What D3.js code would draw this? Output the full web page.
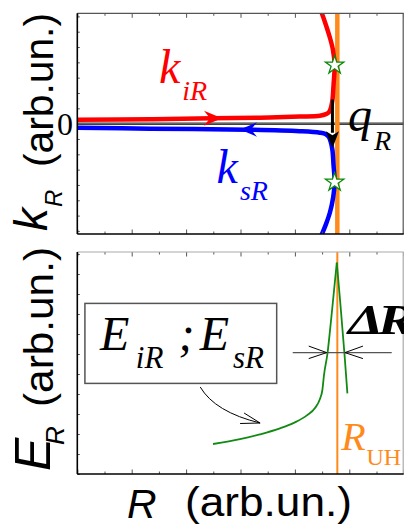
<!doctype html>
<html>
<head>
<meta charset="utf-8">
<title>k_R and E_R versus R</title>
<style>
  body { margin: 0; background: #fff; }
  svg { display: block; }
</style>
</head>
<body>
<script src="https://d3js.org/d3.v7.min.js"></script>
<script>

// ---- data (R in axis tick units, k_R and E_R in arbitrary units) ----
var idlerR  = [0, 2.67, 4.99, 6.71, 8.18, 8.92, 9.14, 9.25, 9.32, 9.38, 9.42, 9.46, 9.40, 9.29, 9.14, 8.99, 8.90];
var idlerK  = [0.26, 0.29, 0.36, 0.39, 0.46, 0.52, 0.62, 0.75, 1.01, 1.54, 2.52, 3.82, 4.80, 5.59, 6.44, 7.20, 7.60];
var signalR = [0, 2.67, 6.24, 8.18, 8.92, 9.14, 9.25, 9.32, 9.38, 9.42, 9.46, 9.40, 9.29, 9.14, 8.99, 8.90];
var signalK = [-0.27, -0.33, -0.39, -0.49, -0.59, -0.69, -0.88, -1.21, -1.73, -2.71, -3.82, -4.87, -5.78, -6.57, -7.22, -7.60];
var starR   = [9.46, 9.46];
var starK   = [3.82, -3.82];
var fieldR  = [4.99, 5.98, 6.71, 7.45, 8.00, 8.44, 8.74, 8.92, 9.01, 9.07, 9.20, 9.33, 9.44, 9.54, 9.66, 9.82, 9.93];
var fieldE  = [1.50, 1.74, 1.98, 2.28, 2.58, 2.93, 3.30, 3.75, 4.20, 4.95, 6.05, 7.70, 9.20, 10.57, 8.70, 6.05, 4.03];
var upperHybridR = 9.56;
var xTicks = d3.range(0, 13);
var kTicks = d3.range(-7, 8);
var eTicks = d3.range(0, 12);

var W = 404, H = 526;
var svg = d3.select('body').append('svg').attr('width', W).attr('height', H);

var L = 77.3, R = 403.7;
var x = d3.scaleLinear().domain([0, 12]).range([L, R]);
var yK = d3.scaleLinear().domain([-7.2, 7.2]).range([234, 13.3]);
var yE = d3.scaleLinear().domain([0, 11.1]).range([474, 252]);

var serif = "'Liberation Serif', 'DejaVu Serif', serif";
var sans = "'Liberation Sans', Arial, sans-serif";
var orange = '#ff8a1c';

var defs = svg.append('defs');
defs.append('clipPath').attr('id', 'clipTop').append('rect')
    .attr('x', L).attr('y', yK(7.2)).attr('width', R - L).attr('height', yK(-7.2) - yK(7.2));
defs.append('clipPath').attr('id', 'clipBot').append('rect')
    .attr('x', L).attr('y', yE(11.1)).attr('width', R - L).attr('height', yE(0) - yE(11.1));

function ticks(g, y0, y1, yScale, yVals){
    var major = xTicks.filter(function(d){ return d % 2 === 0; });
    var minor = xTicks.filter(function(d){ return d % 2 === 1; });
    [[major, 4.5], [minor, 2.5]].forEach(function(p){
        g.append('g').attr('transform', 'translate(0,' + y1 + ')')
            .call(d3.axisBottom(x).tickValues(p[0]).tickSize(-p[1]).tickFormat(''))
            .call(function(a){ a.select('.domain').remove(); a.selectAll('line').attr('stroke', '#555'); });
        g.append('g').attr('transform', 'translate(0,' + y0 + ')')
            .call(d3.axisTop(x).tickValues(p[0]).tickSize(-p[1]).tickFormat(''))
            .call(function(a){ a.select('.domain').remove(); a.selectAll('line').attr('stroke', '#555'); });
    });
    g.append('g').attr('transform', 'translate(' + L + ',0)')
        .call(d3.axisLeft(yScale).tickValues(yVals).tickSize(-2.5).tickFormat(''))
        .call(function(a){ a.select('.domain').remove(); a.selectAll('line').attr('stroke', '#555'); });
}

function frame(g, y0, y1, edge){
    g.append('line').attr('x1', L).attr('x2', R).attr('y1', y0).attr('y2', y0).attr('stroke', edge).attr('stroke-width', 1.2);
    g.append('line').attr('x1', R - 0.5).attr('x2', R - 0.5).attr('y1', y0).attr('y2', y1).attr('stroke', edge).attr('stroke-width', 1.2);
    g.append('line').attr('x1', L).attr('x2', R).attr('y1', y1).attr('y2', y1).attr('stroke', '#000').attr('stroke-width', 1.6);
    g.append('line').attr('x1', L).attr('x2', L).attr('y1', y0).attr('y2', y1).attr('stroke', '#000').attr('stroke-width', 1.6);
}

// arrowhead drawn in pixels: tip point, direction (+1 right, -1 left, 'down')
function arrowHead(g, tx, ty, dir, color, len, hw, notch){
    var pts;
    if(dir === 'down'){
        pts = [[tx, ty], [tx - hw, ty - len], [tx, ty - len + notch], [tx + hw, ty - len]];
    } else {
        pts = [[tx, ty], [tx - dir * len, ty - hw], [tx - dir * (len - notch), ty], [tx - dir * len, ty + hw]];
    }
    g.append('path').attr('d', 'M' + pts.join('L') + 'Z').attr('fill', color);
}

// ================= top panel: k_R =================
var topPanel = svg.append('g');
var topClip = topPanel.append('g').attr('clip-path', 'url(#clipTop)');

topClip.append('line').attr('x1', L).attr('x2', R).attr('y1', yK(0) - 1).attr('y2', yK(0) - 1)
    .attr('stroke', '#999').attr('stroke-width', 1.5);
topClip.append('line').attr('x1', L).attr('x2', R).attr('y1', yK(0) + 0.5).attr('y2', yK(0) + 0.5)
    .attr('stroke', '#000').attr('stroke-width', 1.2);

topClip.append('line').attr('x1', x(upperHybridR)).attr('x2', x(upperHybridR))
    .attr('y1', yK(7.2)).attr('y2', yK(-7.2)).attr('stroke', orange).attr('stroke-width', 4.5);

var idlerPts = idlerR.map(function(r, i){ return [x(r), yK(idlerK[i])]; });
var signalPts = signalR.map(function(r, i){ return [x(r), yK(signalK[i])]; });
topClip.append('path').attr('d', d3.line().curve(d3.curveCatmullRom)(idlerPts))
    .attr('fill', 'none').attr('stroke', '#ff0000').attr('stroke-width', 4.5);
topClip.append('path').attr('d', d3.line().curve(d3.curveCatmullRom)(signalPts))
    .attr('fill', 'none').attr('stroke', '#0000ff').attr('stroke-width', 4.5);

arrowHead(topClip, x(5.32), yK(0.36), 1, '#ff0000', 18, 7.5, 6);
arrowHead(topClip, x(5.98), yK(-0.38), -1, '#0000ff', 17, 7.2, 6);

// q_R wave-vector arrow
topClip.append('line').attr('x1', x(9.38)).attr('x2', x(9.38)).attr('y1', yK(1.58)).attr('y2', yK(-0.6))
    .attr('stroke', '#000').attr('stroke-width', 3);
arrowHead(topClip, x(9.38), yK(-1.6), 'down', '#000', 17, 6.5, 4);

topClip.selectAll('path.star').data(starR).enter().append('path').attr('class', 'star')
    .attr('d', d3.symbol(d3.symbolStar, 105))
    .attr('transform', function(d, i){ return 'translate(' + x(d) + ',' + yK(starK[i]) + ')'; })
    .attr('fill', '#fff').attr('stroke', '#0a8a0a').attr('stroke-width', 1.3);

ticks(topPanel, yK(7.2), yK(-7.2), yK, kTicks);
frame(topPanel, yK(7.2), yK(-7.2), '#555');

topPanel.append('text').attr('x', 73).attr('y', yK(0) + 11).attr('text-anchor', 'end')
    .attr('font-family', serif).attr('font-size', 32).text('0');

function subText(g, px, py, main, sub, size, subSize, dy, color, mainDx){
    var t = g.append('text').attr('x', px).attr('y', py).attr('fill', color)
        .attr('font-family', serif).attr('font-style', 'italic');
    t.append('tspan').attr('font-size', size).text(main);
    t.append('tspan').attr('font-size', subSize).attr('dx', mainDx || 0).attr('dy', dy).text(sub);
    return t;
}
subText(topPanel, x(3.0), yK(2.65), 'k', 'iR', 48, 28, 17, '#ff0000', 2);
subText(topPanel, x(5.12), yK(-3.89), 'k', 'sR', 48, 28, 17, '#0000ff', 2);
subText(topPanel, x(9.95), yK(-0.49), 'q', 'R', 48, 28, 19, '#000', 2);

// y label top
var yl1 = topPanel.append('g').attr('transform', 'rotate(-90)');
yl1.append('text').attr('x', -231).attr('y', 47).attr('font-family', sans).attr('font-style', 'italic')
    .attr('font-size', 46).text('k');
yl1.append('text').attr('x', -207).attr('y', 62).attr('font-family', sans).attr('font-style', 'italic')
    .attr('font-size', 24).text('R');
yl1.append('text').attr('x', -167).attr('y', 53).attr('font-family', sans)
    .attr('font-size', 41).attr('textLength', 154).attr('lengthAdjust', 'spacingAndGlyphs').text('(arb.un.)');

// ================= bottom panel: E_R =================
var botPanel = svg.append('g');
var botClip = botPanel.append('g').attr('clip-path', 'url(#clipBot)');

botClip.append('line').attr('x1', x(upperHybridR)).attr('x2', x(upperHybridR))
    .attr('y1', yE(11.1)).attr('y2', yE(0)).attr('stroke', orange).attr('stroke-width', 2);

var fieldPts = fieldR.map(function(r, i){ return [x(r), yE(fieldE[i])]; });
var peak = d3.maxIndex(fieldE);
botClip.append('path').attr('d', d3.line().curve(d3.curveMonotoneX)(fieldPts.slice(0, peak + 1)))
    .attr('fill', 'none').attr('stroke', '#128a12').attr('stroke-width', 1.8);
botClip.append('path').attr('d', d3.line()(fieldPts.slice(peak)))
    .attr('fill', 'none').attr('stroke', '#128a12').attr('stroke-width', 1.8);

// width marker
botClip.append('line').attr('x1', x(7.92)).attr('x2', x(11.56)).attr('y1', yE(6.07)).attr('y2', yE(6.07))
    .attr('stroke', '#555').attr('stroke-width', 1.3);
[[9.17, -1], [9.84, 1]].forEach(function(a){
    var tx = x(a[0]), ty = yE(6.07);
    botClip.append('path').attr('d', 'M' + (tx + a[1] * 18) + ',' + (ty - 6.5) + 'L' + tx + ',' + ty + 'L' + (tx + a[1] * 18) + ',' + (ty + 6))
        .attr('fill', 'none').attr('stroke', '#000').attr('stroke-width', 1);
});

// callout box
botPanel.append('rect').attr('x', x(0.28)).attr('y', yE(8.53)).attr('width', x(7.33) - x(0.28)).attr('height', yE(4.53) - yE(8.53))
    .attr('fill', '#fff').attr('stroke', '#555').attr('stroke-width', 1.5);
var lab = botPanel.append('text').attr('font-family', serif).attr('font-style', 'italic').attr('fill', '#000');
lab.append('tspan').attr('x', x(0.83)).attr('y', yE(6.2)).attr('font-size', 48).text('E');
lab.append('tspan').attr('x', x(2.15)).attr('y', yE(5.3)).attr('font-size', 31).text('iR');
lab.append('tspan').attr('x', x(3.72)).attr('y', yE(6.2)).attr('font-size', 48).text(';');
lab.append('tspan').attr('x', x(4.5)).attr('y', yE(6.2)).attr('font-size', 48).text('E');
lab.append('tspan').attr('x', x(5.72)).attr('y', yE(5.3)).attr('font-size', 31).text('sR');

// callout arrow
var c0 = [x(4.52), yE(4.35)], c1 = [x(5.06), yE(3.1)], c2 = [x(6.72), yE(2.55)];
botPanel.append('path').attr('d', 'M' + c0 + 'Q' + c1 + ' ' + c2).attr('fill', 'none').attr('stroke', '#000').attr('stroke-width', 1);
botPanel.append('path').attr('d', 'M' + (c2[0] - 16) + ',' + (c2[1] - 10) + 'L' + c2 + 'L' + (c2[0] - 20) + ',' + (c2[1] + 0.5))
    .attr('fill', 'none').attr('stroke', '#000').attr('stroke-width', 1);

ticks(botPanel, yE(11.1), yE(0), yE, eTicks);
frame(botPanel, yE(11.1), yE(0), '#aaa');

// Delta R: wide bold triangle with R leaning on it, cut by the right edge
botPanel.append('text').attr('transform', 'translate(' + x(9.95) + ',' + yE(7.0) + ') scale(1.3,1)')
    .attr('font-family', serif).attr('font-weight', 'bold').attr('font-style', 'italic')
    .attr('font-size', 43).attr('letter-spacing', -4).text('\u0394R');

var uh = botPanel.append('text').attr('fill', orange).attr('font-family', serif);
uh.append('tspan').attr('x', x(9.7)).attr('y', yE(1.2)).attr('font-style', 'italic').attr('font-size', 40).text('R');
uh.append('tspan').attr('x', x(10.63)).attr('y', yE(0.45)).attr('font-size', 24).text('UH');

// y label bottom
var yl2 = botPanel.append('g').attr('transform', 'rotate(-90)');
yl2.append('text').attr('x', -471).attr('y', 50).attr('font-family', sans).attr('font-style', 'italic')
    .attr('font-size', 50).text('E');
yl2.append('text').attr('x', -445).attr('y', 64).attr('font-family', sans).attr('font-style', 'italic')
    .attr('font-size', 26).text('R');
yl2.append('text').attr('x', -407).attr('y', 53).attr('font-family', sans)
    .attr('font-size', 41).attr('textLength', 160).attr('lengthAdjust', 'spacingAndGlyphs').text('(arb.un.)');

// x label
svg.append('text').attr('x', 127).attr('y', 518).attr('font-family', sans).attr('font-style', 'italic')
    .attr('font-size', 41).text('R');
svg.append('text').attr('x', 185).attr('y', 516).attr('font-family', sans)
    .attr('font-size', 40).attr('textLength', 167).attr('lengthAdjust', 'spacingAndGlyphs').text('(arb.un.)');

</script>
</body>
</html>
